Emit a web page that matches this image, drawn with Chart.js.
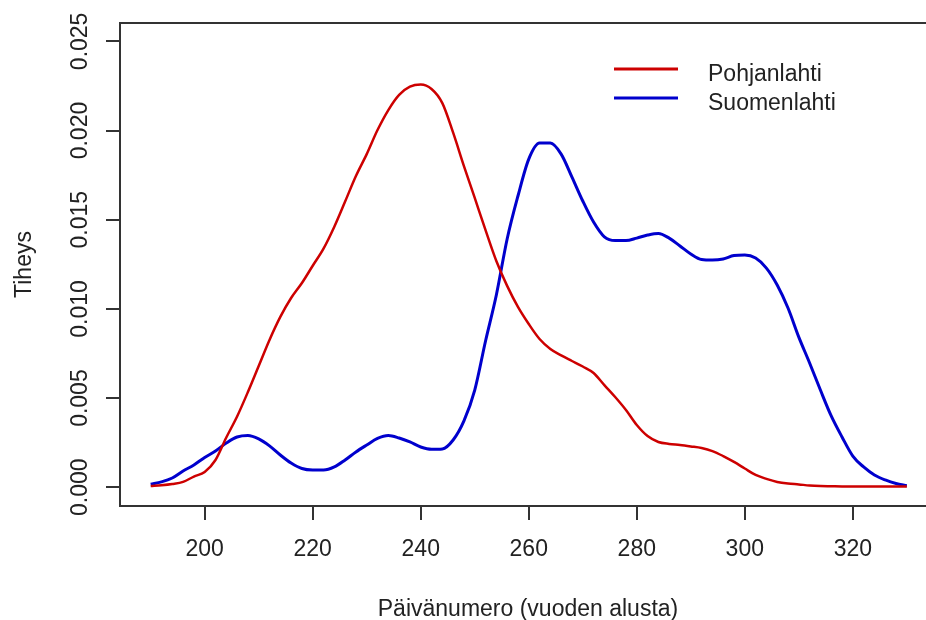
<!DOCTYPE html>
<html lang="fi">
  <head>
    <meta charset="UTF-8" />
    <title>Tiheys</title>
    <script src="https://cdn.jsdelivr.net/npm/chart.js@4/dist/chart.umd.min.js"></script>
    <style>
      html, body { margin: 0; padding: 0; background: #fff; }
      #wrap { width: 926px; height: 620px; }
    </style>
  </head>
  <body>
    <div id="wrap"><canvas id="myChart"></canvas></div>

    <script>
      // päivät (x) ja tiheysarviot luettu kuvasta
      var days = [190, 192, 194, 196, 198, 200, 202, 204, 206, 208, 210, 212, 214, 216, 218, 220,
        222, 224, 226, 228, 230, 232, 234, 236, 238, 240, 242, 244, 246, 248, 250, 252, 254, 256,
        258, 260, 262, 264, 266, 268, 270, 272, 274, 276, 278, 280, 282, 284, 286, 288, 290, 292,
        294, 296, 298, 300, 302, 304, 306, 308, 310, 312, 314, 316, 318, 320, 322, 324, 326, 328, 330];

      var pohjanlahti = [0.00007, 0.00011, 0.00018, 0.0003, 0.0006, 0.00086, 0.00153, 0.00279, 0.00397,
        0.00534, 0.0068, 0.00826, 0.00955, 0.01061, 0.01145, 0.01242, 0.01338, 0.01461, 0.01602,
        0.01745, 0.01868, 0.02003, 0.02115, 0.0220, 0.02246, 0.02258, 0.02233, 0.02154, 0.01988,
        0.01801, 0.01622, 0.01442, 0.01269, 0.01129, 0.01011, 0.00915, 0.00831, 0.00775, 0.00739,
        0.00708, 0.00677, 0.00641, 0.00573, 0.00506, 0.00433, 0.00349, 0.00287, 0.00254, 0.00243,
        0.00237, 0.00229, 0.0022, 0.00203, 0.00175, 0.00142, 0.00105, 0.00069, 0.00047, 0.0003,
        0.00021, 0.00016, 0.0001, 0.00007, 0.00006, 0.00005, 0.00005, 0.00005, 0.00005, 0.00005,
        0.00005, 0.00005];

      var suomenlahti = [0.00017, 0.0003, 0.00052, 0.00091, 0.00125, 0.00167, 0.00203, 0.00248,
        0.00282, 0.0029, 0.00271, 0.00232, 0.00181, 0.00136, 0.00105, 0.00097, 0.00097, 0.00114,
        0.00153, 0.00198, 0.00237, 0.00274, 0.0029, 0.00276, 0.00254, 0.00226, 0.00213, 0.00215,
        0.00265, 0.00372, 0.00545, 0.0082, 0.01078, 0.01392, 0.01633, 0.0184, 0.0193, 0.0193,
        0.01868, 0.01739, 0.01605, 0.01487, 0.01404, 0.01383, 0.01383, 0.01397, 0.01414, 0.01423,
        0.01397, 0.01353, 0.01308, 0.01277, 0.01274, 0.0128, 0.01299, 0.01302, 0.01285, 0.01229,
        0.01134, 0.01005, 0.00842, 0.00697, 0.00545, 0.004, 0.00282, 0.00175, 0.00114, 0.00069,
        0.00041, 0.00021, 0.00009];

      var xTicks = [200, 220, 240, 260, 280, 300, 320];
      var yTicks = [0, 0.005, 0.01, 0.015, 0.02, 0.025];

      var seriesNames = ["Pohjanlahti", "Suomenlahti"];
      var seriesColors = ["#cd0000", "#0000cd"];

      var FONT = "'Liberation Sans', Arial, sans-serif";
      var INK = "#222";
      var AXIS = "#333";

      function points(arr) {
        return days.map(function (d, i) {
          return { x: d, y: arr[i] };
        });
      }

      // R-tyylinen laatikko, y-akselin kiertyneet numerot, otsikot ja selite
      const rStyle = {
        id: "rStyle",
        afterDraw(chart) {
          const ctx = chart.ctx;
          const a = chart.chartArea;
          const ys = chart.scales.y;
          ctx.save();

          ctx.strokeStyle = AXIS;
          ctx.lineWidth = 2;
          ctx.beginPath();
          ctx.moveTo(a.right + 2, a.top);
          ctx.lineTo(a.left, a.top);
          ctx.lineTo(a.left, a.bottom);
          ctx.lineTo(a.right + 2, a.bottom);
          ctx.stroke();

          ctx.fillStyle = INK;
          ctx.font = "23px " + FONT;
          ctx.textAlign = "center";
          ctx.textBaseline = "alphabetic";
          ys.ticks.forEach(function (t) {
            const py = ys.getPixelForValue(t.value);
            ctx.save();
            ctx.translate(87, py);
            ctx.rotate(-Math.PI / 2);
            ctx.fillText(t.value.toFixed(3), 0, 0);
            ctx.restore();
          });

          ctx.fillText("Päivänumero (vuoden alusta)", 528, 616);
          ctx.save();
          ctx.translate(31, (a.top + a.bottom) / 2);
          ctx.rotate(-Math.PI / 2);
          ctx.fillText("Tiheys", 0, 0);
          ctx.restore();

          ctx.textAlign = "left";
          seriesNames.forEach(function (name, i) {
            const ly = 69 + i * 29;
            ctx.strokeStyle = seriesColors[i];
            ctx.lineWidth = 3;
            ctx.beginPath();
            ctx.moveTo(614, ly);
            ctx.lineTo(678, ly);
            ctx.stroke();
            ctx.fillStyle = INK;
            ctx.fillText(name, 708, ly + 12);
          });

          ctx.restore();
        },
      };

      const data = {
        datasets: [
          {
            label: seriesNames[0],
            data: points(pohjanlahti),
            borderColor: seriesColors[0],
            borderWidth: 2.5,
          },
          {
            label: seriesNames[1],
            data: points(suomenlahti),
            borderColor: seriesColors[1],
            borderWidth: 3,
          },
        ],
      };

      const config = {
        type: "line",
        data,
        options: {
          responsive: true,
          maintainAspectRatio: false,
          animation: false,
          devicePixelRatio: 1,
          layout: { padding: { left: 0, top: 23, right: 0, bottom: 0 } },
          elements: {
            point: { radius: 0 },
            line: { cubicInterpolationMode: "monotone", fill: false },
          },
          plugins: {
            legend: { display: false },
            title: { display: false },
            tooltip: { enabled: false },
          },
          scales: {
            x: {
              type: "linear",
              min: 184.32,
              max: 333.55,
              afterBuildTicks: function (s) {
                s.ticks = xTicks.map(function (v) { return { value: v }; });
              },
              afterFit: function (s) { s.height = 114; },
              border: { display: false },
              grid: {
                drawOnChartArea: false,
                drawTicks: true,
                tickLength: 14,
                color: AXIS,
                lineWidth: 2,
              },
              ticks: {
                maxRotation: 0,
                autoSkip: false,
                padding: 16,
                color: INK,
                font: { family: FONT, size: 23 },
              },
            },
            y: {
              min: -0.00105,
              max: 0.02603,
              afterBuildTicks: function (s) {
                s.ticks = yTicks.map(function (v) { return { value: v }; });
              },
              afterFit: function (s) { s.width = 120; },
              border: { display: false },
              grid: {
                drawOnChartArea: false,
                drawTicks: true,
                tickLength: 14,
                color: AXIS,
                lineWidth: 2,
              },
              ticks: { display: false },
            },
          },
        },
        plugins: [rStyle],
      };

      var myChart = new Chart(document.getElementById("myChart"), config);
    </script>
  </body>
</html>
